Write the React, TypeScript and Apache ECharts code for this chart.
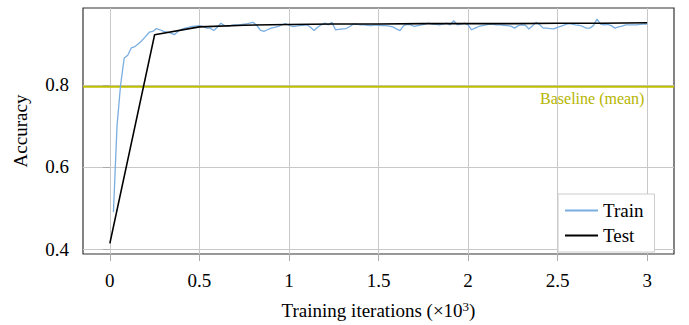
import React, { useEffect, useRef } from "react";
import * as echarts from "echarts";

const testIter = [0, 0.25, 0.5, 0.75, 1.0, 1.25, 1.5, 1.75, 2.0, 2.25, 2.5, 2.75, 3.0];
const testAcc = [0.414, 0.922, 0.941, 0.945, 0.947, 0.948, 0.948, 0.949, 0.949, 0.949, 0.95, 0.95, 0.951];

const trainStep = 0.02;
const trainAcc = [
  0.49, 0.7, 0.8, 0.865, 0.872, 0.89, 0.893, 0.9, 0.908, 0.918,
  0.928, 0.93, 0.937, 0.934, 0.93, 0.928, 0.926, 0.922, 0.93, 0.935,
  0.938, 0.94, 0.942, 0.943, 0.944, 0.942, 0.938, 0.938, 0.932, 0.94,
  0.95, 0.944, 0.942, 0.945, 0.946, 0.946, 0.947, 0.948, 0.95, 0.952,
  0.945, 0.933, 0.93, 0.934, 0.938, 0.94, 0.942, 0.946, 0.949, 0.945,
  0.942, 0.943, 0.944, 0.945, 0.946, 0.94, 0.932, 0.94, 0.946, 0.95,
  0.946, 0.952, 0.934, 0.935, 0.936, 0.937, 0.942, 0.948, 0.947, 0.946,
  0.946, 0.945, 0.944, 0.946, 0.945, 0.944, 0.944, 0.943, 0.941, 0.936,
  0.932, 0.944, 0.947, 0.946, 0.942, 0.944, 0.946, 0.948, 0.95, 0.948,
  0.947, 0.946, 0.948, 0.95, 0.946, 0.956, 0.946, 0.948, 0.95, 0.946,
  0.934, 0.938, 0.942, 0.944, 0.946, 0.948, 0.947, 0.946, 0.946, 0.945,
  0.944, 0.943, 0.938, 0.944, 0.946, 0.945, 0.936, 0.944, 0.952, 0.946,
  0.938, 0.938, 0.937, 0.936, 0.94, 0.943, 0.946, 0.949, 0.948, 0.946,
  0.945, 0.942, 0.938, 0.938, 0.944, 0.96, 0.948, 0.946, 0.947, 0.944,
  0.938, 0.941, 0.943, 0.946, 0.946, 0.946, 0.946, 0.947, 0.948, 0.948,
];

const baselineMean = 0.795;
const xTicks = [0, 0.5, 1, 1.5, 2, 2.5, 3];
const yTicks = [0.4, 0.6, 0.8];
const xRange = [-0.15, 3.15];
const yRange = [0.388, 0.987];

const FONT = "Liberation Serif";

export default function App() {
  const ref = useRef<HTMLDivElement>(null);
  useEffect(() => {
    if (!ref.current) return;
    const chart = echarts.init(ref.current, null, { renderer: "svg" });
    const trainData = trainAcc.map((v, i) => [+((i + 1) * trainStep).toFixed(3), v]);
    const testData = testAcc.map((v, i) => [testIter[i], v]);
    chart.setOption({
      animation: false,
      textStyle: { fontFamily: FONT },
      grid: {
        left: 83,
        right: 15,
        top: 8,
        bottom: 67,
        show: true,
        borderColor: "#333",
        borderWidth: 1.2,
        backgroundColor: "transparent",
      },
      legend: {
        data: ["Train", "Test"],
        orient: "vertical",
        left: 558,
        top: 194,
        itemWidth: 33,
        itemHeight: 2,
        itemGap: 6,
        icon: "rect",
        padding: [7, 11, 7, 7],
        backgroundColor: "#fff",
        borderColor: "#ccc",
        borderWidth: 1,
        textStyle: { fontFamily: FONT, fontSize: 19, color: "#000" },
      },
      xAxis: {
        type: "value",
        min: xRange[0],
        max: xRange[1],
        splitNumber: 7,
        name: "Training iterations (×10{sup|3})",
        nameLocation: "middle",
        nameGap: 46,
        nameTextStyle: {
          fontFamily: FONT,
          fontSize: 19,
          color: "#000",
          rich: { sup: { fontFamily: FONT, fontSize: 13, verticalAlign: "top", padding: [0, 0, 8, 0], color: "#000" } },
        },
        axisLine: { show: false },
        axisTick: { show: true, length: 7, inside: false, lineStyle: { color: "#aaa" }, customValues: xTicks },
        axisLabel: { fontFamily: FONT, fontSize: 19, color: "#000", margin: 17, customValues: xTicks },
        splitLine: { show: true, lineStyle: { color: "#c8c8c8", width: 1 } },
      },
      yAxis: {
        type: "value",
        min: yRange[0],
        max: yRange[1],
        splitNumber: 3,
        name: "Accuracy",
        nameLocation: "middle",
        nameGap: 53,
        nameTextStyle: { fontFamily: FONT, fontSize: 19, color: "#000" },
        axisLine: { show: false },
        axisTick: { show: true, length: 7, inside: false, lineStyle: { color: "#aaa" }, customValues: yTicks },
        axisLabel: {
          fontFamily: FONT,
          fontSize: 19,
          color: "#000",
          margin: 14,
          customValues: yTicks,
          formatter: (v: number) => v.toFixed(1),
        },
        splitLine: { show: true, lineStyle: { color: "#c8c8c8", width: 1 } },
      },
      series: [
        {
          name: "Baseline",
          type: "line",
          data: [[xRange[0], baselineMean], [xRange[1], baselineMean]],
          showSymbol: false,
          symbol: "none",
          silent: true,
          lineStyle: { color: "#bfbf00", width: 2 },
          itemStyle: { color: "#bfbf00" },
          z: 1,
          markPoint: {
            symbol: "circle",
            symbolSize: 0,
            silent: true,
            data: [{ coord: [2.985, baselineMean] }],
            label: {
              show: true,
              formatter: "Baseline (mean)",
              position: [0, 4],
              align: "right",
              verticalAlign: "top",
              fontFamily: FONT,
              fontSize: 16,
              color: "#b5b500",
            },
          },
        },
        {
          name: "Train",
          type: "line",
          data: trainData,
          showSymbol: false,
          symbol: "none",
          lineStyle: { color: "#7aaee0", width: 1.3 },
          itemStyle: { color: "#7aaee0" },
          z: 2,
        },
        {
          name: "Test",
          type: "line",
          data: testData,
          showSymbol: false,
          symbol: "none",
          lineStyle: { color: "#000", width: 1.6 },
          itemStyle: { color: "#000" },
          z: 3,
        },
      ],
    });
    return () => chart.dispose();
  }, []);
  return (
    <div
      ref={ref}
      style={{ position: "fixed", left: 0, top: 0, width: 689, height: 325, background: "#fff" }}
    />
  );
}
